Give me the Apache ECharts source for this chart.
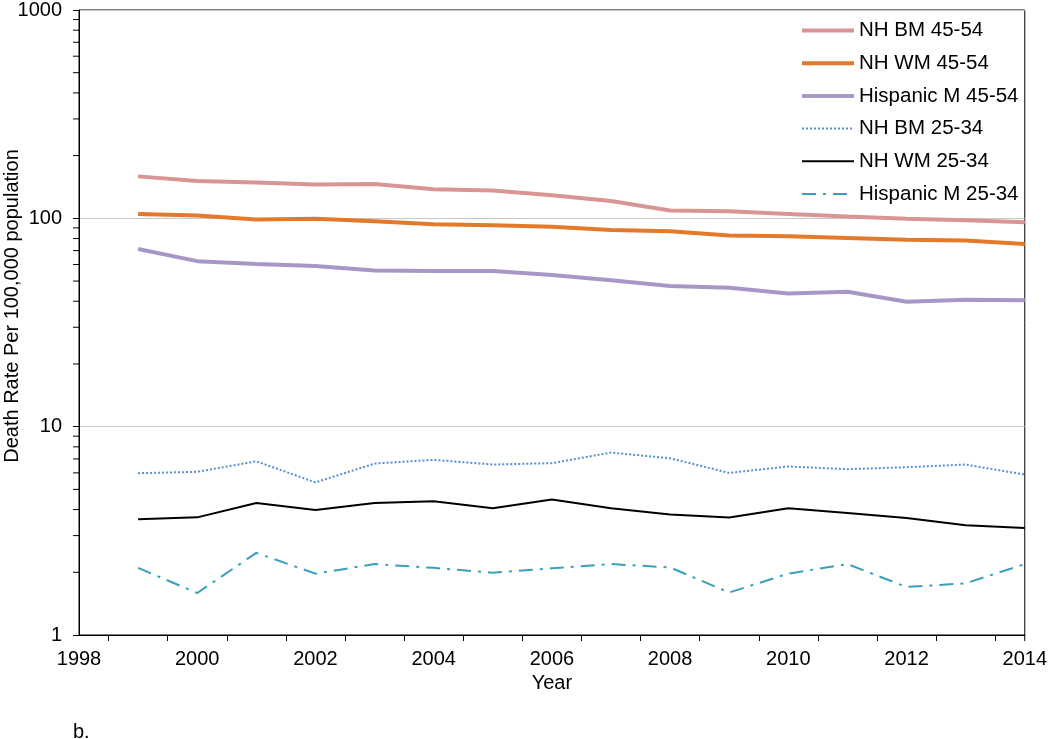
<!DOCTYPE html>
<html>
<head>
<meta charset="utf-8">
<script src="https://cdn.jsdelivr.net/npm/echarts@6/dist/echarts.min.js"></script>
<style>
html,body{margin:0;padding:0;background:#fff;}
#chart{width:1050px;height:739px;}
</style>
</head>
<body>
<div id="chart"></div>
<script>
const years = [1999,2000,2001,2002,2003,2004,2005,2006,2007,2008,2009,2010,2011,2012,2013,2014];
const nhBM4554 = [159,151,148.5,145.5,146,138,136,129,121,109,108,105,102,99.5,98,95.7];
const nhWM4554 = [104.8,103.3,98.6,99.6,96.8,93.6,92.6,91,88,86.6,82.7,82,80.5,79,78.2,75.3];
const hisp4554 = [71.3,62.3,60.4,59.1,56.2,55.8,55.8,53.5,50.4,47.3,46.4,43.6,44.4,39.8,40.7,40.4];
const nhBM2534 = [5.98,6.07,6.82,5.40,6.65,6.93,6.58,6.68,7.51,7.05,6.0,6.44,6.25,6.39,6.58,5.89];
const nhWM2534 = [3.59,3.67,4.30,3.98,4.30,4.39,4.06,4.47,4.06,3.79,3.66,4.06,3.85,3.64,3.36,3.26];
const hisp2534 = [2.10,1.59,2.48,1.97,2.19,2.10,1.99,2.09,2.19,2.11,1.60,1.97,2.19,1.70,1.77,2.19];
const seriesNames = ['NH BM 45-54','NH WM 45-54','Hispanic M 45-54','NH BM 25-34','NH WM 25-34','Hispanic M 25-34'];
const yMinorTicks = [2,3,4,5,6,7,8,9,20,30,40,50,60,70,80,90,200,300,400,500,600,700,800,900];
const yTitle = 'Death Rate Per 100,000 population';
const xTitle = 'Year';
const panelLabel = 'b.';

const FONT = '"Liberation Sans", Arial, sans-serif';
const pair = arr => years.map((y, i) => [y, arr[i]]);

const styles = [
  { color: '#D99594', width: 4, type: 'solid' },
  { color: '#E5792A', width: 4, type: 'solid' },
  { color: '#A797C6', width: 4, type: 'solid' },
  { color: '#558ED5', width: 2, type: [2, 2] },
  { color: '#000000', width: 2, type: 'solid' },
  { color: '#3B9EBD', width: 2, type: [14, 7, 3, 7] }
];
const dataSets = [nhBM4554, nhWM4554, hisp4554, nhBM2534, nhWM2534, hisp2534];

const chart = echarts.init(document.getElementById('chart'));

const option = {
  animation: false,
  backgroundColor: '#fff',
  textStyle: { fontFamily: FONT },
  grid: { left: 79, right: 24, top: 8, bottom: 104, show: true, borderColor: '#000', borderWidth: 1, backgroundColor: 'transparent' },
  legend: {
    orient: 'vertical', left: 800, top: 20, padding: 0,
    itemWidth: 52, itemHeight: 14, itemGap: 11.7,
    textStyle: { fontFamily: FONT, fontSize: 20.5, color: '#000' },
    data: seriesNames.map((n, i) => ({
      name: n,
      itemStyle: { opacity: 0 },
      lineStyle: { width: styles[i].width, type: styles[i].type, color: styles[i].color }
    })),
    selectedMode: false
  },
  xAxis: {
    type: 'value', min: 1998, max: 2014, interval: 1,
    name: xTitle, nameLocation: 'middle', nameGap: 36,
    nameTextStyle: { fontFamily: FONT, fontSize: 20, color: '#000' },
    axisLine: { show: true, lineStyle: { color: '#000', width: 1 } },
    axisTick: { show: false },
    minorTick: { show: true, splitNumber: 2, length: 6, lineStyle: { color: '#000', width: 1 } },
    splitLine: { show: false },
    minorSplitLine: { show: false },
    axisLabel: {
      fontFamily: FONT, fontSize: 20, color: '#000', margin: 14,
      formatter: v => (v % 2 === 0 ? String(v) : '')
    }
  },
  yAxis: {
    type: 'log', logBase: 10, min: 1, max: 1000,
    axisLine: { show: true, lineStyle: { color: '#000', width: 1 } },
    axisTick: { show: true, length: 6, lineStyle: { color: '#000' } },
    splitLine: { show: true, lineStyle: { color: '#c8c8c8', width: 1 } },
    axisLabel: { fontFamily: FONT, fontSize: 20, color: '#000', margin: 17, formatter: v => String(Math.round(v)) }
  },
  graphic: [
    { type: 'text', x: 12, y: 306, rotation: Math.PI / 2,
      style: { text: yTitle, font: '20px ' + FONT, fill: '#000', align: 'center', verticalAlign: 'middle' } },
    { type: 'text', left: 73, top: 722,
      style: { text: panelLabel, font: '20px ' + FONT, fill: '#000' } }
  ],
  series: seriesNames.map((n, i) => ({
    name: n, type: 'line', data: pair(dataSets[i]), symbol: 'none', smooth: false,
    lineStyle: { color: styles[i].color, width: styles[i].width, type: styles[i].type, cap: 'butt' },
    itemStyle: { color: styles[i].color }, z: 3
  })).concat([
    {
      name: 'minorTicks', type: 'custom', clip: false, silent: true, z: 4,
      data: yMinorTicks.map(v => [1998, v]),
      renderItem: (params, api) => {
        const p = api.coord([api.value(0), api.value(1)]);
        return { type: 'line', shape: { x1: p[0] - 6, y1: p[1], x2: p[0], y2: p[1] },
                 style: { stroke: '#000', lineWidth: 1 } };
      }
    },
    {
      name: 'endTick', type: 'custom', clip: false, silent: true, z: 4,
      data: [[2014, 1]],
      renderItem: (params, api) => {
        const p = api.coord([api.value(0), api.value(1)]);
        return { type: 'line', shape: { x1: p[0], y1: p[1], x2: p[0], y2: p[1] + 6 },
                 style: { stroke: '#000', lineWidth: 1 } };
      }
    }
  ])
};
chart.setOption(option);
</script>
</body>
</html>
